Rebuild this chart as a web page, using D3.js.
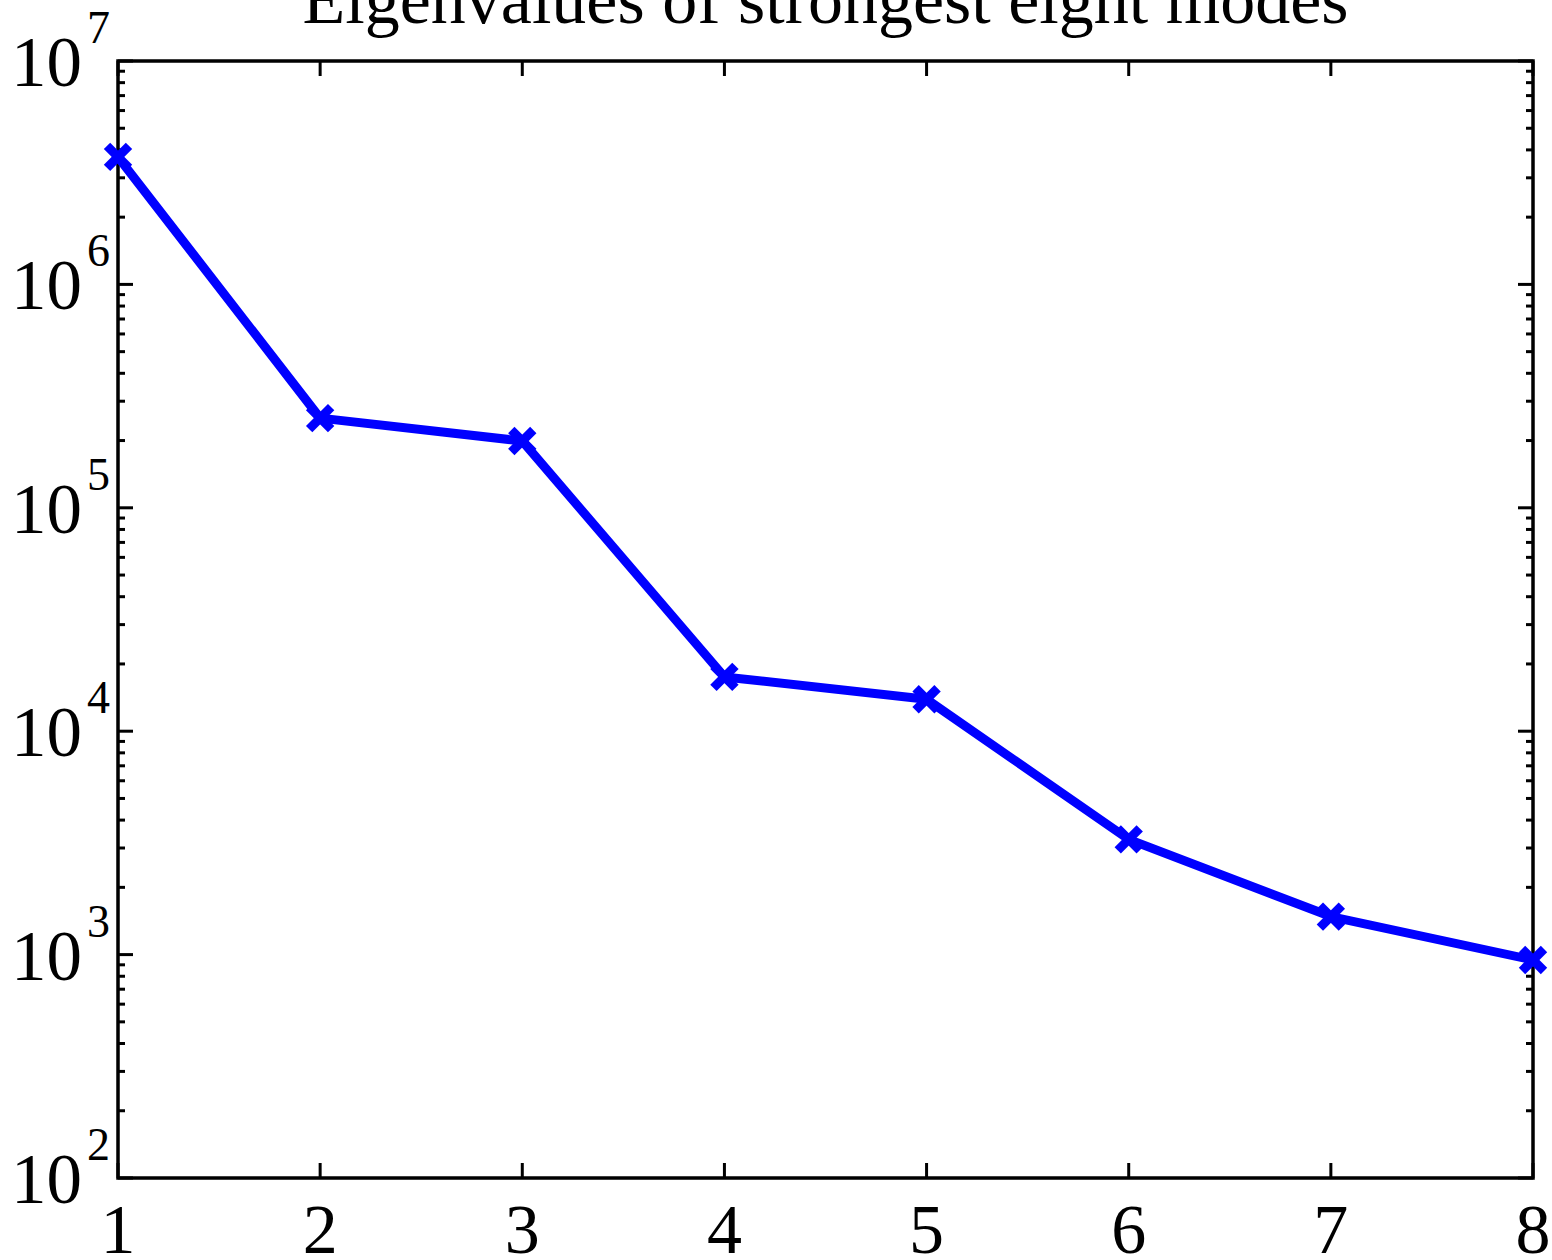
<!DOCTYPE html>
<html>
<head>
<meta charset="utf-8">
<script src="https://cdn.jsdelivr.net/npm/d3@7"></script>
<style>
html,body{margin:0;padding:0;background:#fff;}
svg{display:block;}
text{font-family:"Liberation Serif","Times New Roman",serif;fill:#000;}
</style>
</head>
<body>
<svg id="chart" width="1552" height="1260"></svg>
<script>
const title = "Eigenvalues of strongest eight modes";
const modes = [1, 2, 3, 4, 5, 6, 7, 8];
const eigenvalues = [3.72e6, 2.52e5, 1.99e5, 1.75e4, 1.39e4, 3.28e3, 1.48e3, 946];
const xTicks = [1, 2, 3, 4, 5, 6, 7, 8];
const yTickExponents = [2, 3, 4, 5, 6, 7];

const W = 1552, H = 1260;
const margin = {left: 118, right: 19, top: 61, bottom: 82};
const svg = d3.select("#chart");
const x = d3.scaleLinear().domain([1, 8]).range([margin.left, W - margin.right]);
const y = d3.scaleLog().domain([1e2, 1e7]).range([H - margin.bottom, margin.top]);

const x0 = x.range()[0], x1 = x.range()[1], y0 = y.range()[0], y1 = y.range()[1];
const majorLen = 15, minorLen = 7, axisW = 3.5;

// minor ticks
const minors = [];
for (let e = 2; e < 7; e++) for (let k = 2; k <= 9; k++) minors.push(k * Math.pow(10, e));

const tickG = svg.append("g").attr("stroke", "#000").attr("stroke-width", 3);
yTickExponents.forEach(e => {
  const v = Math.pow(10, e), yy = y(v);
  tickG.append("line").attr("x1", x0).attr("x2", x0 + majorLen).attr("y1", yy).attr("y2", yy);
  tickG.append("line").attr("x1", x1).attr("x2", x1 - majorLen).attr("y1", yy).attr("y2", yy);
});
minors.forEach(v => {
  const yy = y(v);
  tickG.append("line").attr("x1", x0).attr("x2", x0 + minorLen).attr("y1", yy).attr("y2", yy);
  tickG.append("line").attr("x1", x1).attr("x2", x1 - minorLen).attr("y1", yy).attr("y2", yy);
});
xTicks.forEach(v => {
  const xx = x(v);
  tickG.append("line").attr("x1", xx).attr("x2", xx).attr("y1", y0).attr("y2", y0 - majorLen);
  tickG.append("line").attr("x1", xx).attr("x2", xx).attr("y1", y1).attr("y2", y1 + majorLen);
});

// frame
svg.append("rect").attr("x", x0).attr("y", y1).attr("width", x1 - x0).attr("height", y0 - y1)
  .attr("fill", "none").attr("stroke", "#000").attr("stroke-width", axisW);

// x tick labels
svg.append("g").selectAll("text").data(xTicks).join("text")
  .attr("x", d => x(d)).attr("y", y0 + 75)
  .attr("text-anchor", "middle").attr("font-size", 70).text(d => d);

// y tick labels
const yl = svg.append("g").selectAll("g").data(yTickExponents).join("g");
yl.append("text").attr("x", 82).attr("y", d => y(Math.pow(10, d)) + 25)
  .attr("text-anchor", "end").attr("font-size", 71).text("10");
yl.append("text").attr("x", 87).attr("y", d => y(Math.pow(10, d)) - 18)
  .attr("text-anchor", "start").attr("font-size", 46).text(d => d);

// title
svg.append("text").attr("x", (x0 + x1) / 2).attr("y", 23)
  .attr("text-anchor", "middle").attr("font-size", 70).text(title);

// data line
const data = modes.map((m, i) => ({m, v: eigenvalues[i]}));
svg.append("path").datum(data)
  .attr("fill", "none").attr("stroke", "#0000ff").attr("stroke-width", 9)
  .attr("stroke-linejoin", "round")
  .attr("d", d3.line().x(d => x(d.m)).y(d => y(d.v)));

// x markers
const s = 11;
const mk = svg.append("g").attr("stroke", "#0000ff").attr("stroke-width", 9);
data.forEach(d => {
  const cx = x(d.m), cy = y(d.v);
  mk.append("line").attr("x1", cx - s).attr("y1", cy - s).attr("x2", cx + s).attr("y2", cy + s);
  mk.append("line").attr("x1", cx - s).attr("y1", cy + s).attr("x2", cx + s).attr("y2", cy - s);
});
</script>
</body>
</html>
